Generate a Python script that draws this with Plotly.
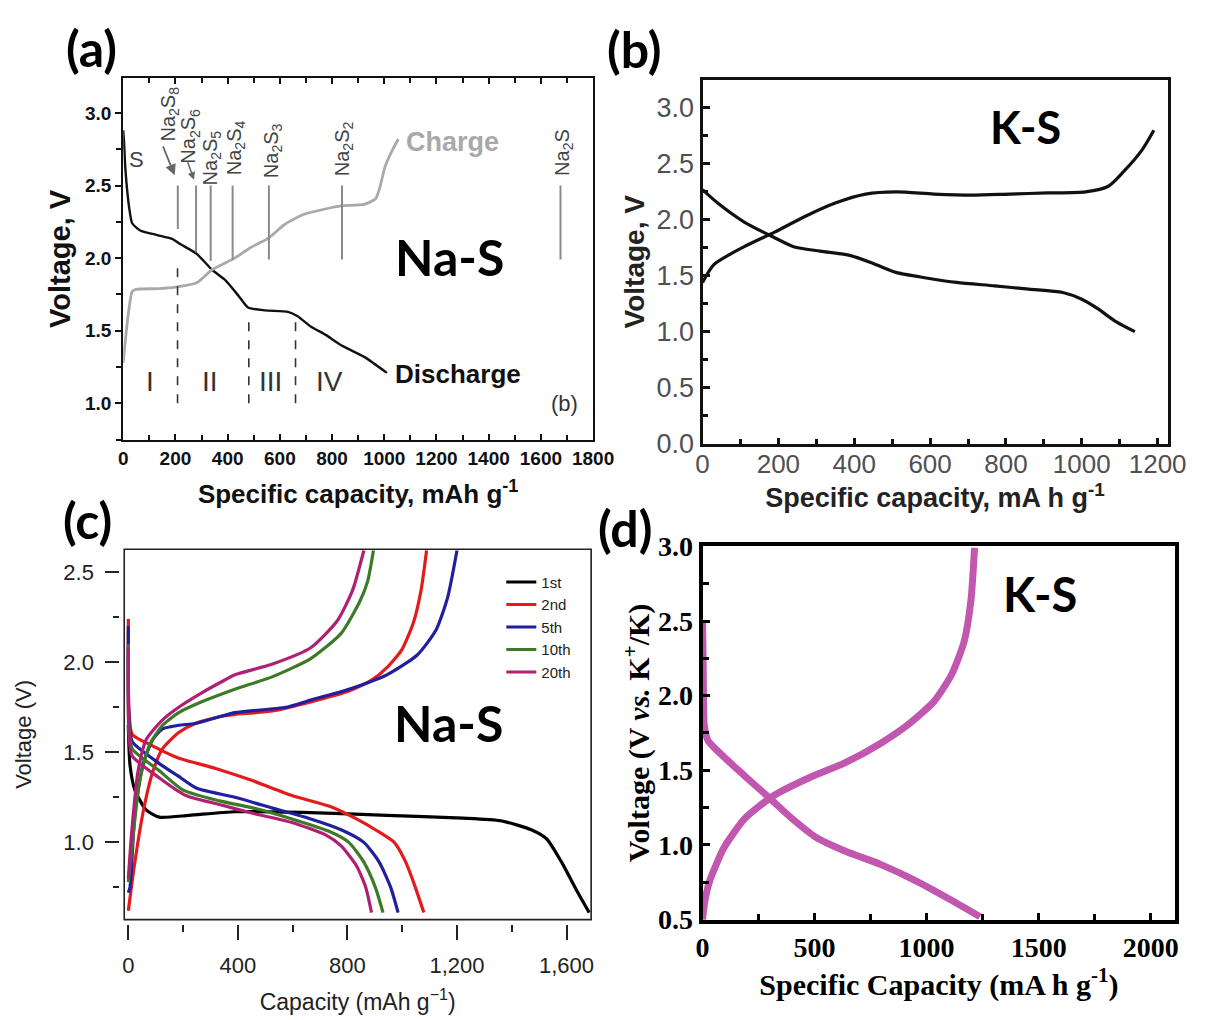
import plotly.graph_objects as go

W, H = 1210, 1020
def px(x): return x / W
def py(y): return 1 - y / H

# ---------------- Panel (a): Na-S ----------------
a_dis_cap = [0, 3, 8, 16, 25, 34, 65, 127, 190, 215, 281, 340, 390, 442, 478, 544, 631, 668, 718, 777, 835, 923, 1010]
a_dis_v = [2.88, 2.8, 2.62, 2.45, 2.32, 2.24, 2.19, 2.16, 2.13, 2.10, 2.03, 1.92, 1.85, 1.74, 1.66, 1.64, 1.63, 1.60, 1.53, 1.47, 1.40, 1.32, 1.21]
a_chg_cap = [0, 5, 12, 22, 34, 48, 136, 200, 281, 340, 427, 485, 558, 617, 690, 777, 835, 923, 967, 985, 1003, 1030, 1054]
a_chg_v = [1.28, 1.38, 1.5, 1.65, 1.77, 1.785, 1.79, 1.80, 1.83, 1.92, 2.0, 2.07, 2.14, 2.23, 2.30, 2.34, 2.36, 2.37, 2.41, 2.5, 2.63, 2.74, 2.82]
species_names = ["Na<sub>2</sub>S<sub>8</sub>", "Na<sub>2</sub>S<sub>6</sub>", "Na<sub>2</sub>S<sub>5</sub>",
                 "Na<sub>2</sub>S<sub>4</sub>", "Na<sub>2</sub>S<sub>3</sub>", "Na<sub>2</sub>S<sub>2</sub>", "Na<sub>2</sub>S"]
species_cap = [209, 279, 335, 419, 558, 838, 1675]
species_line_top = [2.5, 2.5, 2.5, 2.5, 2.5, 2.5, 2.5]
species_line_bottom = [2.2, 2.04, 1.98, 1.99, 1.99, 1.99, 1.99]
species_label_x = [176, 254, 338, 430, 572, 842, 1684]
species_label_v = [2.99, 2.84, 2.69, 2.76, 2.74, 2.75, 2.73]
region_bounds = [208, 481, 660]
region_bound_top = [1.93, 1.62, 1.58]
region_bound_bottom = 1.0
region_names = ["I", "II", "III", "IV"]
region_label_x = [103, 332, 565, 791]
region_label_v = 1.15

# ---------------- Panel (b): K-S ----------------
b_dis_cap = [0, 40, 110, 190, 240, 310, 390, 450, 510, 590, 670, 770, 860, 950, 1000, 1040, 1090, 1140]
b_dis_v = [2.27, 2.15, 1.98, 1.84, 1.76, 1.72, 1.68, 1.61, 1.53, 1.48, 1.44, 1.41, 1.38, 1.35, 1.29, 1.21, 1.09, 1.0]
b_chg_cap = [0, 30, 110, 190, 270, 350, 430, 510, 610, 710, 810, 910, 1010, 1070, 1110, 1160, 1190]
b_chg_v = [1.44, 1.6, 1.76, 1.89, 2.03, 2.15, 2.23, 2.25, 2.23, 2.22, 2.23, 2.24, 2.25, 2.30, 2.43, 2.63, 2.8]

# ---------------- Panel (c): Na-S cycles ----------------
cycle_names = ["1st", "2nd", "5th", "10th", "20th"]
cycle_colors = ["#000000", "#e41a1c", "#1f1fa0", "#3d7a27", "#b01f72"]
c_dis_cap = [
    [0, 6, 24, 65, 113, 222, 389, 666, 944, 1221, 1360, 1471, 1527, 1582, 1638, 1683],
    [0, 2, 14, 83, 180, 319, 458, 597, 735, 833, 902, 971, 1013, 1048, 1079],
    [0, 2, 14, 111, 180, 250, 389, 527, 666, 777, 860, 916, 958, 985],
    [0, 2, 14, 111, 200, 333, 458, 597, 735, 805, 860, 902, 930],
    [0, 2, 14, 111, 210, 333, 458, 597, 722, 777, 833, 867, 888],
]
c_dis_v = [
    [1.65, 1.43, 1.29, 1.18, 1.14, 1.15, 1.17, 1.165, 1.15, 1.135, 1.12, 1.07, 1.02, 0.89, 0.73, 0.61],
    [2.24, 1.75, 1.60, 1.54, 1.47, 1.41, 1.34, 1.26, 1.20, 1.13, 1.07, 1.0, 0.89, 0.75, 0.61],
    [2.2, 1.7, 1.56, 1.44, 1.37, 1.30, 1.25, 1.19, 1.13, 1.07, 1.0, 0.89, 0.75, 0.61],
    [2.1, 1.65, 1.52, 1.40, 1.29, 1.23, 1.19, 1.13, 1.06, 1.0, 0.89, 0.75, 0.61],
    [2.08, 1.6, 1.48, 1.36, 1.26, 1.21, 1.16, 1.11, 1.04, 0.98, 0.87, 0.75, 0.61],
]
c_chg_cap = [
    [],
    [0, 20, 53, 89, 125, 184, 244, 339, 389, 527, 666, 805, 888, 944, 999, 1041, 1069, 1089],
    [0, 6, 24, 53, 89, 125, 184, 244, 339, 389, 576, 666, 805, 944, 1055, 1124, 1166, 1200],
    [0, 15, 41, 77, 125, 184, 268, 389, 527, 666, 777, 846, 874, 895],
    [0, 12, 35, 65, 125, 184, 268, 339, 389, 527, 666, 763, 819, 860],
]
c_chg_v = [
    [],
    [0.62, 0.85, 1.16, 1.39, 1.52, 1.61, 1.66, 1.70, 1.71, 1.73, 1.78, 1.84, 1.90, 1.97, 2.07, 2.22, 2.40, 2.62],
    [0.72, 0.75, 1.16, 1.43, 1.57, 1.63, 1.65, 1.66, 1.70, 1.72, 1.75, 1.79, 1.85, 1.93, 2.04, 2.18, 2.36, 2.62],
    [0.78, 1.0, 1.34, 1.54, 1.65, 1.72, 1.78, 1.85, 1.92, 2.02, 2.16, 2.34, 2.45, 2.62],
    [0.8, 1.05, 1.39, 1.57, 1.68, 1.75, 1.83, 1.89, 1.93, 1.99, 2.08, 2.23, 2.40, 2.62],
]

# ---------------- Panel (d): K-S ----------------
d_dis_cap = [0, 3, 5, 8, 24, 95, 190, 302, 397, 508, 635, 794, 952, 1111, 1238]
d_dis_v = [2.5, 2.2, 1.9, 1.8, 1.70, 1.59, 1.46, 1.31, 1.18, 1.05, 0.96, 0.87, 0.76, 0.63, 0.52]
d_chg_cap = [0, 10, 32, 95, 190, 317, 476, 635, 794, 921, 1032, 1111, 1167, 1198, 1214]
d_chg_v = [0.5, 0.62, 0.76, 0.98, 1.18, 1.33, 1.45, 1.55, 1.68, 1.81, 1.96, 2.14, 2.36, 2.64, 2.99]

SANS = "Liberation Sans, Arial, sans-serif"
SERIF = "Liberation Serif, Times New Roman, serif"
LABEL = "Lato, Open Sans, sans-serif"

fig = go.Figure()

# Panel (a) traces
fig.add_trace(go.Scatter(x=a_dis_cap, y=a_dis_v, mode="lines", line=dict(color="#111", width=2.4, shape="spline", smoothing=0.6),
                         xaxis="x", yaxis="y", showlegend=False))
fig.add_trace(go.Scatter(x=a_chg_cap, y=a_chg_v, mode="lines", line=dict(color="#a9a9a9", width=2.8, shape="spline", smoothing=0.6),
                         xaxis="x", yaxis="y", showlegend=False))
sx, sy = [], []
for c, t, b in zip(species_cap, species_line_top, species_line_bottom):
    sx += [c, c, None]
    sy += [b, t, None]
fig.add_trace(go.Scatter(x=sx, y=sy, mode="lines", line=dict(color="#8a8a8a", width=2),
                         xaxis="x", yaxis="y", showlegend=False))
dx, dy = [], []
for c, t in zip(region_bounds, region_bound_top):
    dx += [c, c, None]
    dy += [region_bound_bottom, t, None]
fig.add_trace(go.Scatter(x=dx, y=dy, mode="lines", line=dict(color="#333", width=1.6, dash="dash"),
                         xaxis="x", yaxis="y", showlegend=False))

# Panel (b) traces
for cx, cv in [(b_dis_cap, b_dis_v), (b_chg_cap, b_chg_v)]:
    fig.add_trace(go.Scatter(x=cx, y=cv, mode="lines", line=dict(color="#111", width=3.2, shape="spline", smoothing=0.7),
                             xaxis="x2", yaxis="y2", showlegend=False))

# Panel (c) traces
for name, col, dc, dv, cc, cv in zip(cycle_names, cycle_colors, c_dis_cap, c_dis_v, c_chg_cap, c_chg_v):
    fig.add_trace(go.Scatter(x=dc, y=dv, mode="lines", name=name,
                             line=dict(color=col, width=3.2, shape="spline", smoothing=0.6),
                             xaxis="x3", yaxis="y3", showlegend=True))
    if cc:
        fig.add_trace(go.Scatter(x=cc, y=cv, mode="lines", name=name,
                                 line=dict(color=col, width=3.2, shape="spline", smoothing=0.6),
                                 xaxis="x3", yaxis="y3", showlegend=False))

# Panel (d) traces
for cx, cv in [(d_dis_cap, d_dis_v), (d_chg_cap, d_chg_v)]:
    fig.add_trace(go.Scatter(x=cx, y=cv, mode="lines", line=dict(color="#c257b0", width=7, shape="spline", smoothing=0.6),
                             xaxis="x4", yaxis="y4", showlegend=False))

def ax(domain, rng, anchor, **kw):
    d = dict(domain=domain, range=rng, anchor=anchor, showgrid=False, zeroline=False, showline=True)
    d.update(kw)
    return d

# Domains (pixels -> paper)
a_x = [px(119), px(600)]; a_y = [py(438), py(65)]
b_x = [px(712), px(1188)]; b_y = [py(442), py(67)]
c_x = [px(120), px(598)]; c_y = [py(933), py(551)]
d_x = [px(712), px(1196)]; d_y = [py(933), py(548)]

fig.update_layout(
    width=W, height=H, margin=dict(l=0, r=0, t=0, b=0),
    paper_bgcolor="white", plot_bgcolor="white",
    xaxis=ax(a_x, [0, 1800], "y", linecolor="#111", linewidth=2.2, mirror="ticks",
             ticks="inside", ticklen=6, tickwidth=2, tickcolor="#111", dtick=200, tick0=0,
             minor=dict(dtick=100, ticks="inside", ticklen=5, tickwidth=2, tickcolor="#111"),
             tickfont=dict(family=SANS, size=19, color="#111", weight="bold"),
             title=dict(text="<b>Specific capacity, mAh g<sup>-1</sup></b>", font=dict(family=SANS, size=26, color="#111"), standoff=17)),
    yaxis=ax(a_y, [0.75, 3.24], "x", linecolor="#111", linewidth=2.2, mirror=True,
             ticks="outside", ticklen=6, tickwidth=2, tickcolor="#111", dtick=0.5, tick0=1.0, tickformat=".1f",
             minor=dict(dtick=0.25, ticks="outside", ticklen=5, tickwidth=2, tickcolor="#111"),
             tickfont=dict(family=SANS, size=19, color="#111", weight="bold"),
             title=dict(text="<b>Voltage, V</b>", font=dict(family=SANS, size=29, color="#111"), standoff=6)),
    xaxis2=ax(b_x, [0, 1226], "y2", linecolor="#111", linewidth=3, mirror=True,
              ticks="inside", ticklen=6, tickwidth=2.5, tickcolor="#111", dtick=200, tick0=0,
              minor=dict(dtick=100, ticks="inside", ticklen=5, tickwidth=2.5, tickcolor="#111"),
              tickfont=dict(family=SANS, size=26, color="#505050"), ticklabelstandoff=-5,
              title=dict(text="<b>Specific capacity, mA h g<sup>-1</sup></b>", font=dict(family=SANS, size=27, color="#222"), standoff=0)),
    yaxis2=ax(b_y, [0, 3.25], "x2", linecolor="#111", linewidth=3, mirror=True,
              ticks="inside", ticklen=7, tickwidth=2.5, tickcolor="#111", dtick=0.5, tick0=0, tickformat=".1f",
              minor=dict(dtick=0.25, ticks="inside", ticklen=5, tickwidth=2.5, tickcolor="#111"),
              tickfont=dict(family=SANS, size=27, color="#505050"),
              title=dict(text="<b>Voltage, V</b>", font=dict(family=SANS, size=28, color="#222"), standoff=4)),
    xaxis3=ax(c_x, [-15, 1690], "free", position=py(937), showline=False,
              ticks="outside", ticklen=15, tickwidth=2, tickcolor="#222", dtick=400, tick0=0, tickformat=",d",
              minor=dict(dtick=200, ticks="outside", ticklen=7, tickwidth=2, tickcolor="#222"),
              tickfont=dict(family=SANS, size=22, color="#222"), ticklabelstandoff=7,
              title=dict(text="Capacity (mAh g<sup>\u22121</sup>)", font=dict(family=SANS, size=23, color="#222"), standoff=16)),
    yaxis3=ax(c_y, [0.571, 2.627], "free", position=px(115), showline=False,
              ticks="outside", ticklen=14, tickwidth=2, tickcolor="#222", dtick=0.5, tick0=1.0, tickformat=".1f",
              minor=dict(dtick=0.25, ticks="outside", ticklen=6, tickwidth=2, tickcolor="#222"),
              tickfont=dict(family=SANS, size=22, color="#222"), ticklabelstandoff=7,
              title=dict(text="Voltage (V)", font=dict(family=SANS, size=22, color="#222"), standoff=24)),
    xaxis4=ax(d_x, [0, 2110], "y4", linecolor="#000", linewidth=4, mirror=True,
              ticks="inside", ticklen=7, tickwidth=3, tickcolor="#000", dtick=500, tick0=0,
              minor=dict(dtick=250, ticks="inside", ticklen=6, tickwidth=3, tickcolor="#000"),
              tickfont=dict(family=SERIF, size=28, color="#000", weight="bold"),
              title=dict(text="<b>Specific Capacity (mA h g<sup>-1</sup>)</b>", font=dict(family=SERIF, size=30, color="#000"), standoff=0)),
    yaxis4=ax(d_y, [0.5, 3.0], "x4", linecolor="#000", linewidth=4, mirror=True,
              ticks="inside", ticklen=7, tickwidth=3, tickcolor="#000", dtick=0.5, tick0=0.5, tickformat=".1f",
              minor=dict(dtick=0.25, ticks="inside", ticklen=6, tickwidth=3, tickcolor="#000"),
              tickfont=dict(family=SERIF, size=28, color="#000", weight="bold"),
              title=dict(text="<b>Voltage (V <i>vs.</i> K<sup>+</sup>/K)</b>", font=dict(family=SERIF, size=30, color="#000"), standoff=0)),
    legend=dict(x=px(506), y=py(568), xanchor="left", yanchor="top", bgcolor="rgba(0,0,0,0)",
                font=dict(family=SANS, size=15, color="#222"), itemwidth=30),
    shapes=[dict(type="rect", xref="x3 domain", yref="y3 domain", x0=0, x1=1, y0=0, y1=1,
                 line=dict(color="#222", width=1.6), layer="above")],
)

ann = []
# panel letters
for t, x, y in [("(a)", 86, 34), ("(b)", 642, 35), ("(c)", 82, 521), ("(d)", 633, 529)]:
    ann.append(dict(text=f"<b>{t}</b>", x=px(x), y=py(y), xref="paper", yref="paper", showarrow=False,
                    xanchor="center", yanchor="middle", font=dict(family=LABEL, size=50, color="#000")))
# big system labels
for t, x, y, s in [("Na-S", 453, 250, 50), ("K-S", 1043, 116, 45), ("Na-S", 452, 730, 50), ("K-S", 1057, 597, 47)]:
    ann.append(dict(text=f"<b>{t}</b>", x=px(x), y=py(y), xref="paper", yref="paper", showarrow=False,
                    xanchor="center", yanchor="middle", font=dict(family=LABEL, size=s, color="#000")))
# panel (a) species labels
for name, x, v in zip(species_names, species_label_x, species_label_v):
    ann.append(dict(text=name, x=x, y=v, xref="x", yref="y", showarrow=False, textangle=-90,
                    font=dict(family=SANS, size=20, color="#444")))
# arrows to Na2S8 and Na2S6 lines
ann.append(dict(text="", x=197, y=2.57, ax=150, ay=2.78, xref="x", yref="y", axref="x", ayref="y",
                showarrow=True, arrowhead=2, arrowsize=1.2, arrowwidth=1.8, arrowcolor="#666"))
ann.append(dict(text="", x=271, y=2.54, ax=245, ay=2.67, xref="x", yref="y", axref="x", ayref="y",
                showarrow=True, arrowhead=2, arrowsize=1, arrowwidth=1.5, arrowcolor="#666"))
ann.append(dict(text="S", x=50, y=2.68, xref="x", yref="y", showarrow=False, font=dict(family=SANS, size=22, color="#444")))
for name, x in zip(region_names, region_label_x):
    ann.append(dict(text=name, x=x, y=region_label_v, xref="x", yref="y", showarrow=False,
                    font=dict(family=SANS, size=28, color="#333")))
ann.append(dict(text="<b>Charge</b>", x=1075, y=2.80, xref="x", yref="y", xanchor="left", showarrow=False,
                font=dict(family=SANS, size=27, color="#a9a9a9")))
ann.append(dict(text="<b>Discharge</b>", x=1035, y=1.205, xref="x", yref="y", xanchor="left", showarrow=False,
                font=dict(family=SANS, size=26, color="#111")))
ann.append(dict(text="(b)", x=1689, y=1.0, xref="x", yref="y", showarrow=False,
                font=dict(family=SANS, size=22, color="#333")))
fig.update_layout(annotations=ann)

fig.write_html("out.html")
